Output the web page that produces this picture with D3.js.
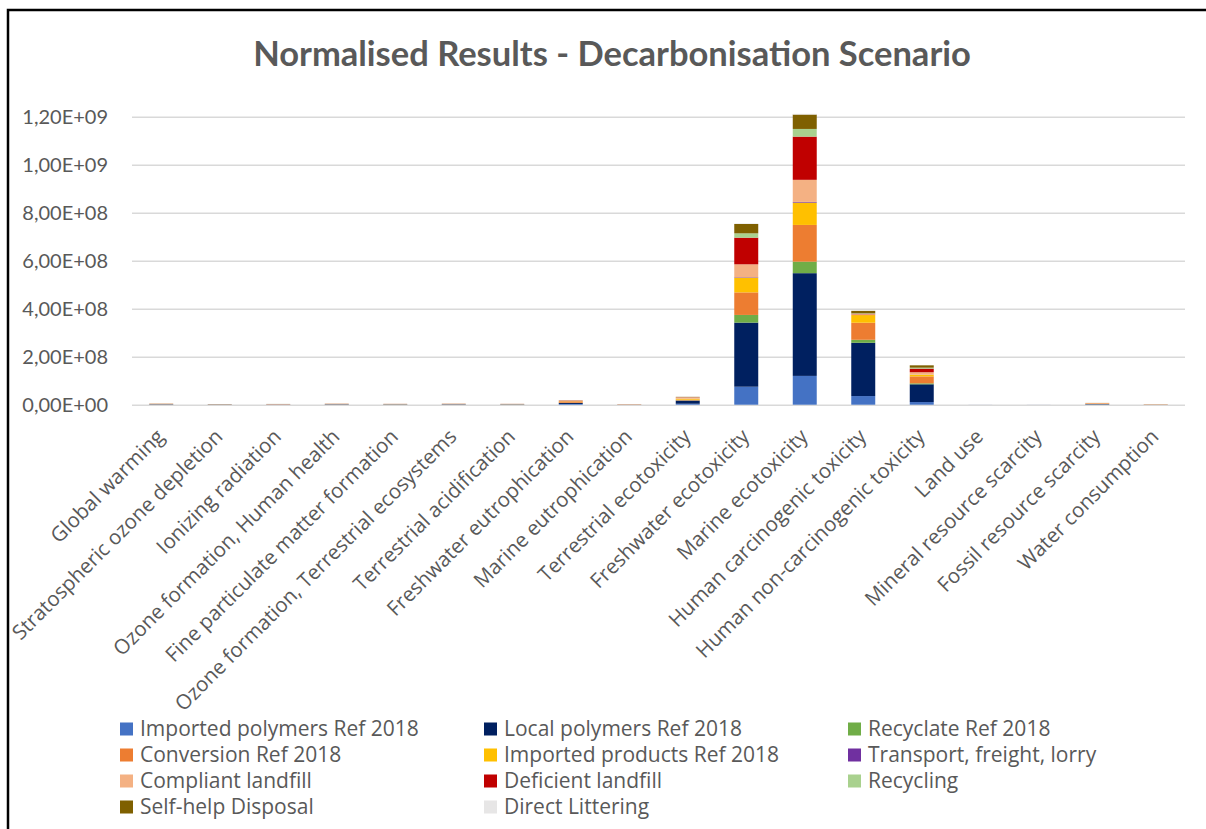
<!DOCTYPE html>
<html>
<head>
<meta charset="utf-8">
<script src="https://cdn.jsdelivr.net/npm/d3@7"></script>
<style>
  body { margin: 0; background: #fff; }
  text { font-family: "Open Sans", Lato, sans-serif; fill: #595959; }
</style>
</head>
<body>
<svg id="chart" width="1206" height="829"></svg>
<script>
var categories = ["Global warming", "Stratospheric ozone depletion", "Ionizing radiation",
  "Ozone formation, Human health", "Fine particulate matter formation",
  "Ozone formation, Terrestrial ecosystems", "Terrestrial acidification",
  "Freshwater eutrophication", "Marine eutrophication", "Terrestrial ecotoxicity",
  "Freshwater ecotoxicity", "Marine ecotoxicity", "Human carcinogenic toxicity",
  "Human non-carcinogenic toxicity", "Land use", "Mineral resource scarcity",
  "Fossil resource scarcity", "Water consumption"];

var seriesNames = ["Imported polymers Ref 2018", "Local polymers Ref 2018", "Recyclate Ref 2018",
  "Conversion Ref 2018", "Imported products Ref 2018", "Transport, freight, lorry",
  "Compliant landfill", "Deficient landfill", "Recycling", "Self-help Disposal", "Direct Littering"];

var seriesColors = ["#4472C4", "#002060", "#70AD47", "#ED7D31", "#FFC000", "#7030A0",
  "#F4B183", "#C00000", "#A9D18E", "#7F6000", "#E7E6E6"];

var importedPolymers = [1.0e6, 0.6e6, 0.5e6, 1.0e6, 0.8e6, 1.0e6, 0.8e6, 3e6, 0.3e6, 4e6, 7.5e7, 1.2e8, 3.6e7, 1.1e7, 1e5, 1e5, 1.0e6, 0.3e6];
var localPolymers = [1.0e6, 0.5e6, 0.5e6, 1.0e6, 0.8e6, 1.0e6, 0.8e6, 4e6, 0.3e6, 1.3e7, 2.67e8, 4.28e8, 2.22e8, 7.4e7, 1e5, 1e5, 1.5e6, 0.3e6];
var recyclate = [0.2e6, 0.1e6, 0.1e6, 0.2e6, 0.2e6, 0.2e6, 0.2e6, 1e6, 0.1e6, 1e6, 3.2e7, 4.8e7, 1.25e7, 4e6, 0, 0, 0.3e6, 0.1e6];
var conversion = [0.6e6, 0.3e6, 0.5e6, 0.6e6, 0.5e6, 0.6e6, 0.5e6, 6e6, 0.3e6, 3e6, 9.4e7, 1.53e8, 7.1e7, 2.9e7, 0, 0, 2.5e6, 0.3e6];
var importedProducts = [0.3e6, 0.2e6, 0.2e6, 0.3e6, 0.3e6, 0.3e6, 0.3e6, 1e6, 0.2e6, 4e6, 6.1e7, 9.3e7, 3.2e7, 7e6, 0, 0, 0.5e6, 0.2e6];
var transport = [0.1e6, 0.1e6, 0.1e6, 0.1e6, 0.1e6, 0.1e6, 0.1e6, 0.2e6, 0, 0.2e6, 2e6, 3e6, 0.5e6, 0.3e6, 0, 0, 0.1e6, 0];
var compliantLandfill = [0.8e6, 0.5e6, 0.8e6, 0.6e6, 0.5e6, 0.6e6, 0.5e6, 1e6, 1.2e6, 5e6, 5.4e7, 9.2e7, 3e6, 1e7, 0, 0, 1.0e6, 1.5e6];
var deficientLandfill = [0.3e6, 0.2e6, 0.2e6, 0.3e6, 0.2e6, 0.3e6, 0.2e6, 1e6, 0.2e6, 1e6, 1.11e8, 1.8e8, 2e6, 1.5e7, 0, 0, 0.1e6, 0.1e6];
var recycling = [0.1e6, 0.1e6, 0.1e6, 0.1e6, 0.1e6, 0.1e6, 0.1e6, 0.3e6, 0, 0.5e6, 1.8e7, 3.2e7, 2e6, 4e6, 0, 0, 0.1e6, 0];
var selfHelp = [0.4e6, 0.2e6, 0.2e6, 0.3e6, 0.2e6, 0.3e6, 0.2e6, 0.5e6, 0.1e6, 1e6, 3.9e7, 6e7, 1e7, 1e7, 0, 0, 0.3e6, 0.1e6];
var directLittering = [0, 0, 0, 0, 0, 0, 0, 0, 0, 0.2e6, 2e6, 3e6, 1e6, 0.5e6, 0, 0, 0, 0];

var yTicks = [0, 2e8, 4e8, 6e8, 8e8, 1e9, 1.2e9];

var seriesValues = [importedPolymers, localPolymers, recyclate, conversion, importedProducts,
  transport, compliantLandfill, deficientLandfill, recycling, selfHelp, directLittering];

var table = categories.map(function (c, i) {
  var row = { cat: c };
  seriesNames.forEach(function (s, j) { row[s] = seriesValues[j][i]; });
  return row;
});

var svg = d3.select("#chart");
var plotLeft = 132, plotRight = 1185, plotTop = 116.7, plotBottom = 404.7;

var x = d3.scaleBand().domain(categories).range([plotLeft, plotRight])
  .paddingInner(0.59).paddingOuter(0.295);
var y = d3.scaleLinear().domain([0, 1.2e9]).range([plotBottom, plotTop]);

svg.append("rect").attr("width", 1206).attr("height", 829).attr("fill", "#fff");

// frame of the chart area (only top and left are in the picture)
svg.append("path")
  .attr("d", "M8,829 L8,10 L1206,10")
  .attr("fill", "none").attr("stroke", "#000").attr("stroke-width", 2.5);

svg.append("text")
  .attr("x", 612).attr("y", 66)
  .attr("text-anchor", "middle")
  .style("font-family", "Lato")
  .style("font-size", "34.5px").style("font-weight", "bold")
  .text("Normalised Results - Decarbonisation Scenario");

var fmt = function (v) {
  var s = v.toExponential(2).replace(".", ",");
  return s.replace(/e([+-])(\d)$/, "E$10$2").replace(/e/, "E");
};

var yAxis = svg.append("g")
  .attr("transform", "translate(" + plotLeft + ",0)")
  .call(d3.axisLeft(y).tickValues(yTicks).tickSize(-(plotRight - plotLeft)).tickFormat(fmt));
yAxis.select(".domain").remove();
yAxis.selectAll(".tick line").attr("stroke", "#D9D9D9").attr("stroke-width", 1.5);
yAxis.selectAll(".tick text")
  .attr("x", -24)
  .style("font-size", "20px").style("font-family", "Lato").attr("fill", "#595959");

var stack = d3.stack().keys(seriesNames);
var layers = stack(table);

svg.append("g").selectAll("g")
  .data(layers)
  .enter().append("g")
  .attr("fill", function (d, i) { return seriesColors[i]; })
  .selectAll("rect")
  .data(function (d) { return d; })
  .enter().append("rect")
  .attr("x", function (d) { return x(d.data.cat); })
  .attr("width", x.bandwidth())
  .attr("y", function (d) { return y(d[1]); })
  .attr("height", function (d) { return Math.max(0, y(d[0]) - y(d[1])); });

var xAxis = svg.append("g")
  .attr("transform", "translate(0," + plotBottom + ")")
  .call(d3.axisBottom(x).tickSize(0));
xAxis.select(".domain").remove();
xAxis.selectAll(".tick text")
  .attr("text-anchor", "end")
  .attr("transform", "translate(-6,23) rotate(-45)")
  .attr("y", 0)
  .attr("dy", "0.7em")
  .style("font-size", "20.5px").style("font-family", "Open Sans").attr("fill", "#595959");

var legendX = [120, 484, 848];
var legend = svg.append("g").selectAll("g")
  .data(seriesNames)
  .enter().append("g")
  .attr("transform", function (d, i) {
    return "translate(" + legendX[i % 3] + "," + (729 + Math.floor(i / 3) * 26) + ")";
  });
legend.append("rect")
  .attr("y", -6.5).attr("width", 13).attr("height", 13)
  .attr("fill", function (d, i) { return seriesColors[i]; });
legend.append("text")
  .attr("x", 20).attr("dy", "0.35em")
  .style("font-size", "21px")
  .text(function (d) { return d; });
</script>
</body>
</html>
